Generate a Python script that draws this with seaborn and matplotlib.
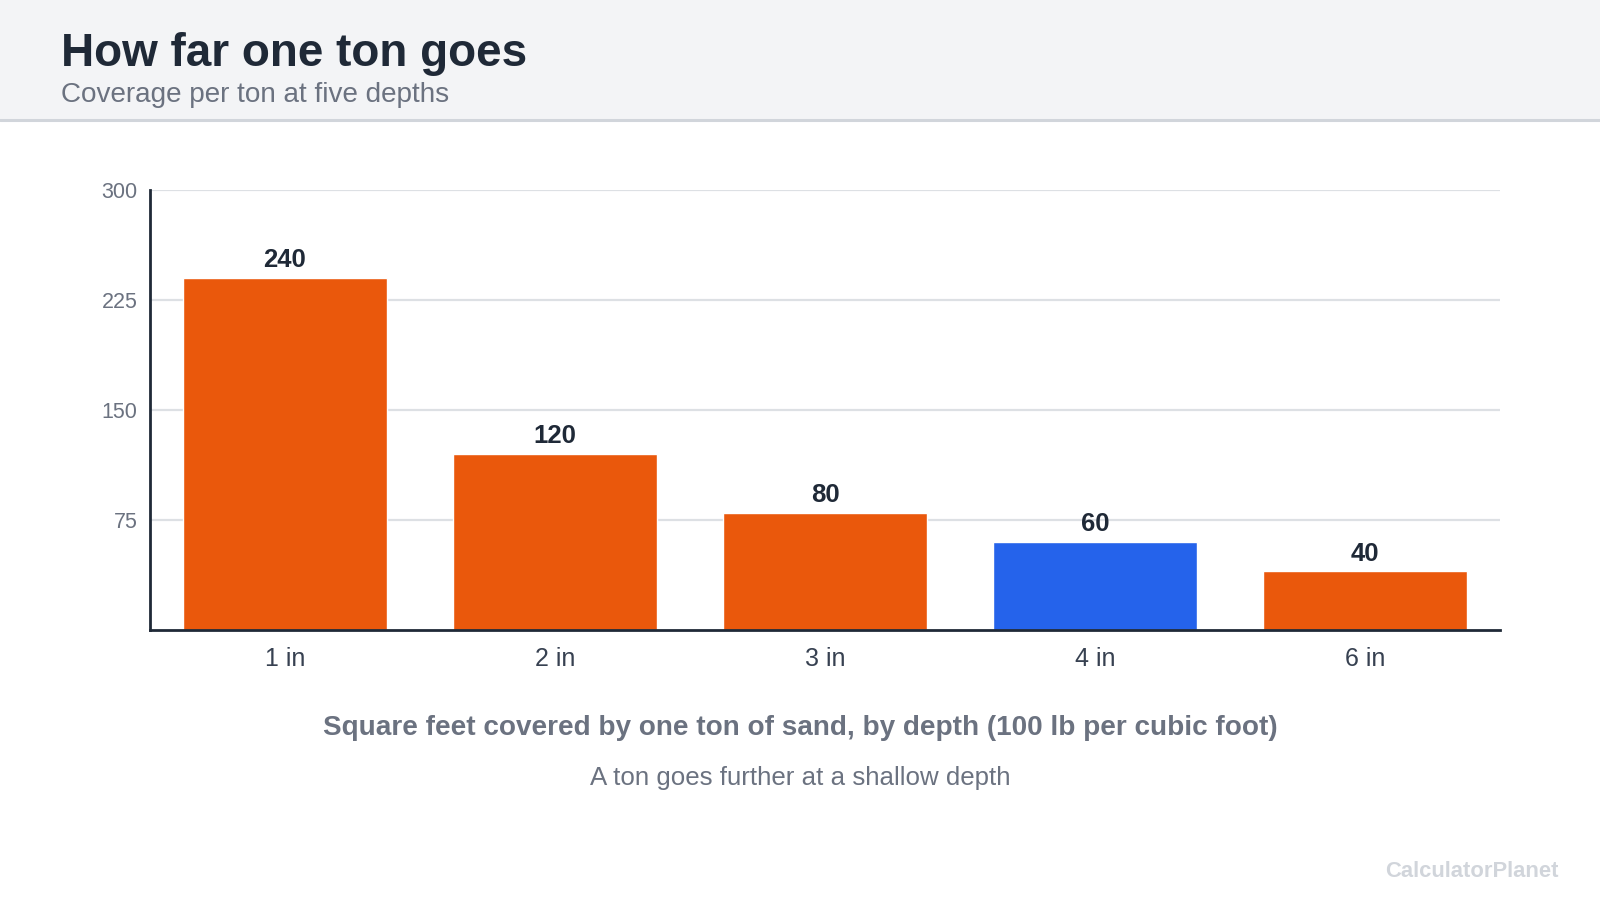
import matplotlib
matplotlib.use("Agg")
import matplotlib.pyplot as plt
import seaborn as sns
import pandas as pd
from matplotlib.patches import Rectangle
from matplotlib.lines import Line2D

depths = ["1 in", "2 in", "3 in", "4 in", "6 in"]
coverage = [240, 120, 80, 60, 40]
highlight = "4 in"
y_ticks = [75, 150, 225, 300]

title = "How far one ton goes"
subtitle = "Coverage per ton at five depths"
xlabel = "Square feet covered by one ton of sand, by depth (100 lb per cubic foot)"
note = "A ton goes further at a shallow depth"
brand = "CalculatorPlanet"

ORANGE = "#ea580c"
BLUE = "#2563eb"
DARK = "#1f2937"
GRAY = "#6b7280"

sns.set_theme(style="white")
plt.rcParams["font.family"] = ["Liberation Sans", "DejaVu Sans"]

W, H = 1600, 900
fig = plt.figure(figsize=(16, 9), dpi=100)
fig.patch.set_facecolor("white")

# header band
fig.patches.append(Rectangle((0, 1 - 120 / H), 1, 120 / H, transform=fig.transFigure,
                             facecolor="#f3f4f6", edgecolor="none", zorder=0))
fig.lines.append(Line2D([0, 1], [1 - 120 / H, 1 - 120 / H], transform=fig.transFigure,
                        color="#d1d5db", lw=2.2, zorder=1))

fig.text(61 / W, 1 - 66 / H, title, fontsize=33, fontweight="bold", color=DARK, va="baseline", ha="left")
fig.text(61 / W, 1 - 102 / H, subtitle, fontsize=20.1, color=GRAY, va="baseline", ha="left")

ax = fig.add_axes([150 / W, 1 - 630 / H, 1350 / W, 440 / H])
df = pd.DataFrame({"depth": depths, "coverage": coverage})
palette = {d: (BLUE if d == highlight else ORANGE) for d in depths}
sns.barplot(data=df, x="depth", y="coverage", hue="depth", palette=palette,
            legend=False, width=0.755, saturation=1, ax=ax, zorder=3)

ax.set_xlim(-0.5, len(depths) - 0.5)
ax.set_ylim(0, 300)
ax.set_yticks(y_ticks)
ax.yaxis.grid(True, color="#dde0e4", lw=1.6, zorder=0)
ax.set_axisbelow(True)
for s in ["top", "right"]:
    ax.spines[s].set_visible(False)
ax.spines["left"].set_color(DARK)
ax.spines["left"].set_linewidth(2)
ax.spines["bottom"].set_color(DARK)
ax.spines["bottom"].set_linewidth(2)
ax.spines["left"].set_zorder(5)
ax.spines["bottom"].set_zorder(5)

ax.tick_params(axis="y", length=0, pad=9, labelsize=15.5, labelcolor=GRAY)
ax.tick_params(axis="x", length=0, pad=12, labelsize=18, labelcolor="#374151")
ax.set_xlabel("")
ax.set_ylabel("")

for c in ax.containers:
    ax.bar_label(c, fmt="%d", padding=4, fontsize=18.5, fontweight="bold", color=DARK)

fig.text(800 / W, 1 - 735 / H, xlabel, fontsize=20.1, fontweight="bold", color=GRAY, ha="center", va="baseline")
fig.text(800 / W, 1 - 785 / H, note, fontsize=18.6, color=GRAY, ha="center", va="baseline")
fig.text(1559 / W, 1 - 877 / H, brand, fontsize=15.8, fontweight="bold", color="#d1d5db", ha="right", va="baseline")

fig.savefig("out.png", dpi=100)
